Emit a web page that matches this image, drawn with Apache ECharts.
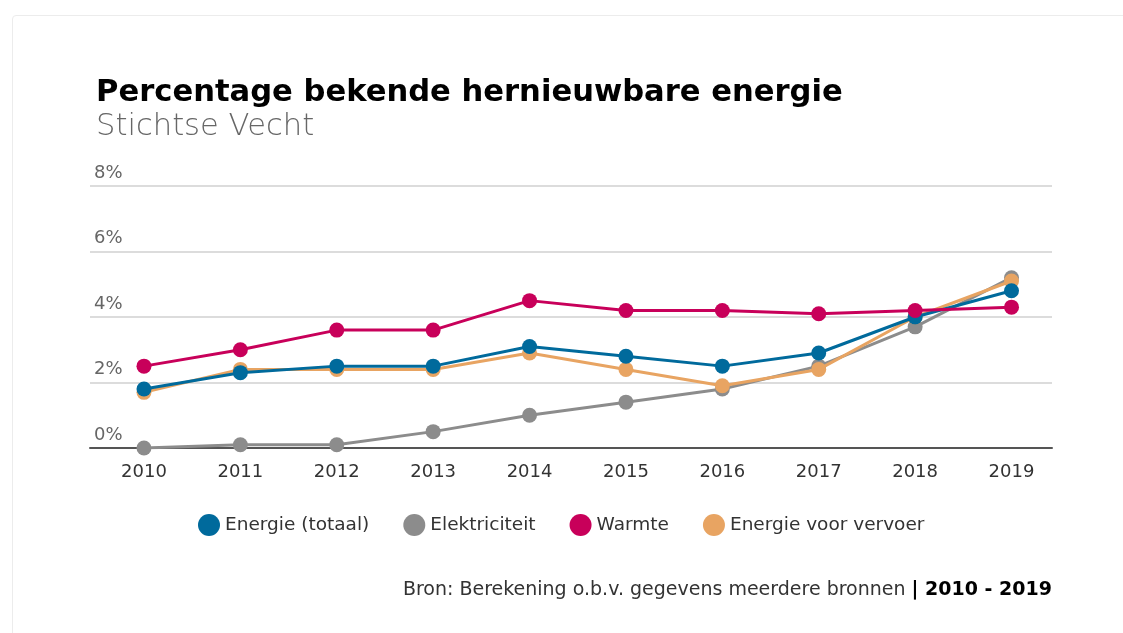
<!DOCTYPE html>
<html>
<head>
<meta charset="utf-8">
<script src="https://cdn.jsdelivr.net/npm/echarts@6/dist/echarts.min.js"></script>
<style>
    html, body { margin: 0; padding: 0; background: #fff; }
    #card { position: absolute; left: 12px; top: 15px; width: 1130px; height: 640px; border: 1px solid #ececec; border-radius: 4px; }
    #chart { position: absolute; left: 0; top: 0; width: 1123px; height: 633px; }
</style>
</head>
<body>
<div id="card"></div>
<div id="chart"></div>
<script>
// Data
const years = [2010, 2011, 2012, 2013, 2014, 2015, 2016, 2017, 2018, 2019];
const energieTotaal = [1.8, 2.3, 2.5, 2.5, 3.1, 2.8, 2.5, 2.9, 4.0, 4.8];
const elektriciteit = [0.0, 0.1, 0.1, 0.5, 1.0, 1.4, 1.8, 2.5, 3.7, 5.2];
const warmte = [2.5, 3.0, 3.6, 3.6, 4.5, 4.2, 4.2, 4.1, 4.2, 4.3];
const vervoer = [1.7, 2.4, 2.4, 2.4, 2.9, 2.4, 1.9, 2.4, 4.0, 5.1];
const yTicks = [0, 2, 4, 6, 8];

const seriesDefs = [
    {name: 'Energie (totaal)', data: energieTotaal, color: '#006a9c'},
    {name: 'Elektriciteit', data: elektriciteit, color: '#8c8c8c'},
    {name: 'Warmte', data: warmte, color: '#c8005a'},
    {name: 'Energie voor vervoer', data: vervoer, color: '#e8a462'}
];
// draw order: gray at bottom, then orange, blue, pink on top
const drawOrder = ['Elektriciteit', 'Energie voor vervoer', 'Energie (totaal)', 'Warmte'];

const font = '"DejaVu Sans", "Open Sans", sans-serif';
const chart = echarts.init(document.getElementById('chart'));

chart.setOption({
    animation: false,
    textStyle: {fontFamily: font},
    title: {
        text: 'Percentage bekende hernieuwbare energie',
        subtext: 'Stichtse Vecht',
        left: 91,
        top: 73,
        itemGap: 3,
        textStyle: {fontFamily: font, fontSize: 30.6, fontWeight: 'bold', color: '#000'},
        subtextStyle: {fontFamily: font, fontSize: 30.6, fontWeight: 200, color: '#666'}
    },
    legend: {
        data: seriesDefs.map(s => s.name),
        left: 193,
        top: 509,
        icon: 'circle',
        itemWidth: 22,
        itemHeight: 22,
        itemGap: 34,
        textStyle: {fontFamily: font, fontSize: 18.5, color: '#333'}
    },
    grid: {left: 90, right: 71, top: 186, bottom: 185},
    xAxis: {
        type: 'value',
        min: 2009.44,
        max: 2019.42,
        splitLine: {show: false},
        axisTick: {show: false},
        axisLine: {show: true, lineStyle: {color: '#555', width: 2}},
        axisLabel: {
            customValues: years,
            formatter: v => String(v),
            margin: 15,
            fontSize: 18,
            color: '#333',
            fontFamily: font
        }
    },
    yAxis: {
        type: 'value',
        min: 0,
        max: 8,
        interval: 2,
        axisLine: {show: false},
        axisTick: {show: false},
        splitLine: {lineStyle: {color: '#dcdcdc', width: 2}},
        axisLabel: {
            customValues: yTicks,
            inside: true,
            margin: 4,
            verticalAlign: 'bottom',
            padding: [0, 0, 4, 0],
            fontSize: 18,
            color: '#666',
            fontFamily: font,
            formatter: '{value}%'
        }
    },
    graphic: [{
        type: 'text',
        right: 71,
        top: 581,
        style: {
            text: 'Bron: Berekening o.b.v. gegevens meerdere bronnen {b|| 2010 - 2019}',
            fontFamily: font,
            fontSize: 19,
            fill: '#333',
            rich: {
                b: {fontFamily: font, fontSize: 19, fontWeight: 'bold', fill: '#000'}
            }
        }
    }],
    series: drawOrder.map((name, idx) => {
        const s = seriesDefs.find(d => d.name === name);
        return {
            name: s.name,
            type: 'line',
            data: s.data.map((v, i) => [years[i], v]),
            color: s.color,
            symbol: 'circle',
            symbolSize: 15,
            lineStyle: {width: 3, color: s.color},
            itemStyle: {color: s.color},
            z: 2 + idx
        };
    })
});
</script>
</body>
</html>
